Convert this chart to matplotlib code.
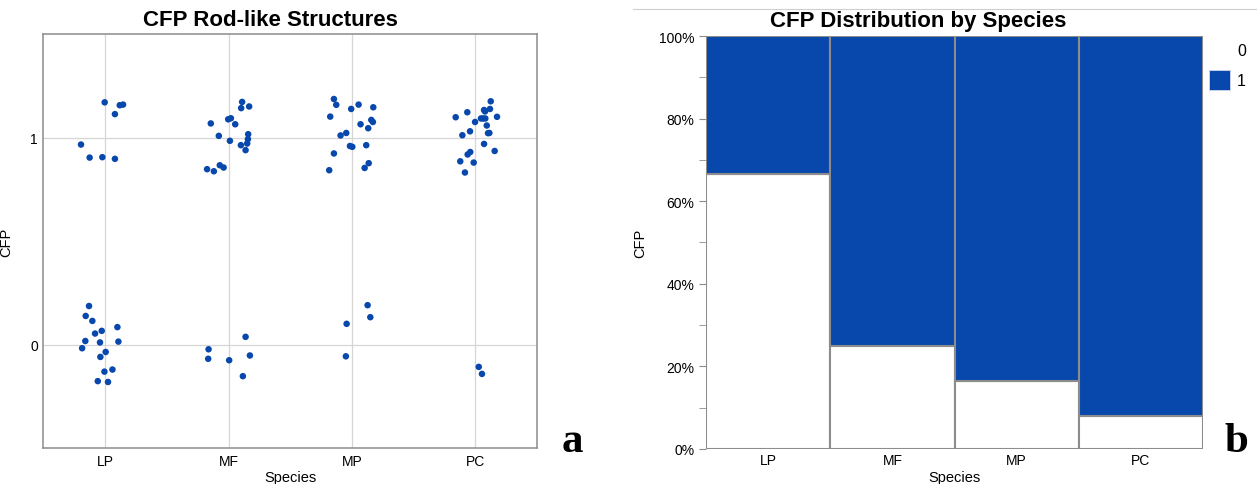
import matplotlib
matplotlib.use("Agg")
import matplotlib.pyplot as plt
import matplotlib.patches as mpatches
from matplotlib.ticker import MultipleLocator, PercentFormatter

plt.rcParams['font.family'] = ['Liberation Sans', 'DejaVu Sans']

SPECIES = ["LP", "MF", "MP", "PC"]

# jitter offsets (category units) and CFP values
LP_X = [-0.004, 0.118, 0.145, 0.079, -0.196, -0.126, -0.023, 0.079,
        -0.131, -0.158, -0.104, 0.099, -0.082, -0.028, -0.161, -0.042,
        0.107, -0.187, 0.004, -0.039, -0.006, 0.059, -0.060, 0.023]
LP_Y = [1.170, 1.156, 1.159, 1.113, 0.966, 0.903, 0.905, 0.897,
        0.186, 0.138, 0.114, 0.084, 0.053, 0.066, 0.017, 0.010,
        0.014, -0.018, -0.036, -0.060, -0.131, -0.121, -0.177, -0.181]

MF_X = [-0.144, -0.079, -0.003, 0.019, 0.054, 0.011, 0.110, 0.102, 0.167,
        0.159, 0.157, 0.151, 0.100, 0.138, -0.174, -0.119, -0.071, -0.040,
        -0.162, -0.165, 0.005, 0.138, 0.173, 0.116]
MF_Y = [1.068, 1.008, 1.088, 1.093, 1.064, 0.984, 1.172, 1.142, 1.150,
        1.016, 0.992, 0.971, 0.963, 0.939, 0.847, 0.837, 0.866, 0.855,
        -0.023, -0.069, -0.076, 0.037, -0.053, -0.153]

MP_X = [-0.146, -0.127, -0.176, -0.006, 0.054, 0.173, 0.070, 0.157, 0.170,
        0.132, -0.092, -0.046, -0.016, 0.003, 0.116, -0.146, -0.184, 0.103,
        0.136, -0.043, 0.127, 0.149, -0.049]
MP_Y = [1.186, 1.158, 1.101, 1.138, 1.159, 1.146, 1.064, 1.085, 1.075,
        1.045, 1.010, 1.022, 0.959, 0.955, 0.963, 0.923, 0.842, 0.853,
        0.876, 0.100, 0.190, 0.132, -0.057]

PC_X = [-0.159, -0.065, 0.071, 0.079, 0.125, 0.119, 0.176, -0.002, 0.046,
        0.062, 0.081, 0.093, 0.103, 0.114, -0.043, -0.105, 0.071, 0.157,
        -0.041, -0.062, -0.122, -0.013, -0.084, 0.028, 0.054]
PC_Y = [1.098, 1.122, 1.133, 1.126, 1.175, 1.138, 1.100, 1.075, 1.092,
        1.092, 1.092, 1.058, 1.021, 1.022, 1.030, 1.011, 0.969, 0.935,
        0.930, 0.918, 0.885, 0.879, 0.831, -0.108, -0.142]

# share of CFP = 0 per species
PCT_ZERO = [0.667, 0.25, 0.165, 0.08]

BLUE = "#0847ab"
GRID = "#d6d6d6"
EDGE = "#8c8c8c"

fig = plt.figure(figsize=(12.57, 4.85), dpi=100)

# ---- panel a: jitter plot
ax1 = fig.add_axes([0.0346, 0.0742, 0.3926, 0.8536])
for i, (xs, ys) in enumerate([(LP_X, LP_Y), (MF_X, MF_Y),
                              (MP_X, MP_Y), (PC_X, PC_Y)]):
    ax1.scatter([i + x for x in xs], ys, s=22, color=BLUE,
                edgecolors="none", zorder=3)
ax1.set_xlim(-0.5, 3.5)
ax1.set_ylim(-0.5, 1.5)
ax1.set_xticks(range(4))
ax1.set_xticklabels(SPECIES, fontsize=10)
ax1.set_yticks([0, 1])
ax1.set_yticklabels(["0", "1"], fontsize=10)
ax1.tick_params(length=0, pad=4)
ax1.grid(True, color=GRID, lw=0.9)
ax1.set_axisbelow(True)
for sp in ax1.spines.values():
    sp.set_color(EDGE)
    sp.set_linewidth(1.1)
ax1.set_xlabel("Species", fontsize=10.5, labelpad=2)
ax1.set_ylabel("CFP", fontsize=10.5, labelpad=12)
fig.text(270 / 1257, 1 - 21 / 485, "CFP Rod-like Structures",
         fontsize=16, fontweight="bold", ha="center", va="center")

# ---- panel b: mosaic
ax2 = fig.add_axes([0.5617, 0.0722, 0.3953, 0.8515])
for i, p0 in enumerate(PCT_ZERO):
    ax2.add_patch(mpatches.Rectangle((i, 0), 1, p0, facecolor="white",
                                     edgecolor=EDGE, lw=1.5))
    ax2.add_patch(mpatches.Rectangle((i, p0), 1, 1 - p0, facecolor=BLUE,
                                     edgecolor=EDGE, lw=1.5))
ax2.set_xlim(0, 4)
ax2.set_ylim(0, 1)
ax2.set_xticks([i + 0.5 for i in range(4)])
ax2.set_xticklabels(SPECIES, fontsize=10)
ax2.tick_params(axis="x", length=0, pad=3)
ax2.yaxis.set_major_locator(MultipleLocator(0.2))
ax2.yaxis.set_minor_locator(MultipleLocator(0.1))
ax2.yaxis.set_major_formatter(PercentFormatter(1.0, decimals=0))
ax2.tick_params(axis="y", which="both", length=5, color=EDGE, labelsize=10)
for sp in ax2.spines.values():
    sp.set_visible(False)
ax2.set_xlabel("Species", fontsize=10.5, labelpad=2)
ax2.set_ylabel("CFP", fontsize=10.5, labelpad=8)
fig.text(918 / 1257, 1 - 21 / 485, "CFP Distribution by Species",
         fontsize=16, fontweight="bold", ha="center", va="center")

# thin rule above panel b
fig.add_artist(plt.Line2D([633 / 1257, 1.0], [1 - 9.5 / 485] * 2,
                          color="#cfcfcf", lw=0.8))

# legend
fig.text(1237 / 1257, 1 - 52 / 485, "0", fontsize=11.5,
         ha="left", va="center")
fig.add_artist(mpatches.Rectangle((1209 / 1257, 1 - 91 / 485), 21 / 1257,
                                  20 / 485, facecolor=BLUE,
                                  edgecolor="#cfd8ea", lw=0.6))
fig.text(1237 / 1257, 1 - 81 / 485, "1", fontsize=11.5,
         ha="left", va="center")

# panel letters
fig.text(572 / 1257, 1 - 452 / 485, "a", fontsize=31, fontweight="bold",
         family="Liberation Serif", ha="center", va="baseline")
fig.text(1236 / 1257, 1 - 452 / 485, "b", fontsize=31, fontweight="bold",
         family="Liberation Serif", ha="center", va="baseline")

fig.savefig("out.png", dpi=100)
